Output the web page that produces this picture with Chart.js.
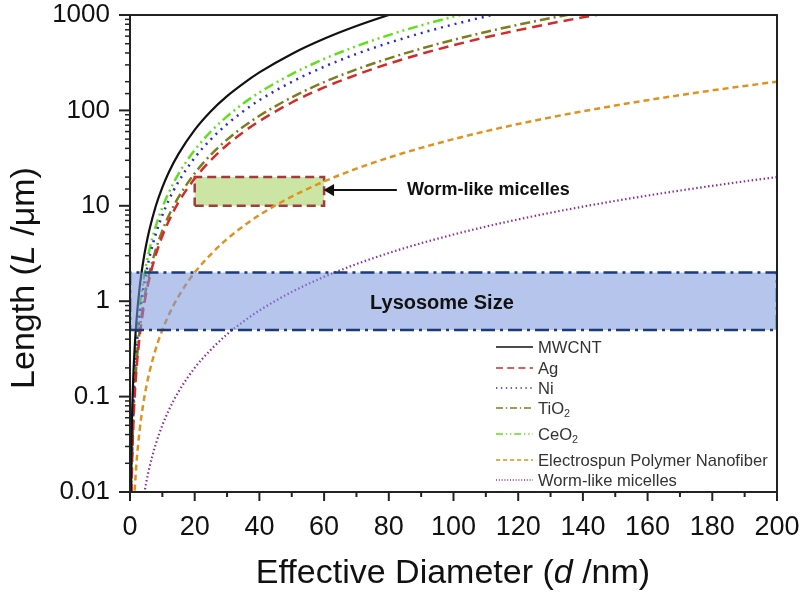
<!DOCTYPE html>
<html>
<head>
<meta charset="utf-8">
<script src="https://cdn.jsdelivr.net/npm/chart.js@4/dist/chart.umd.min.js"></script>
<style>
body{margin:0;background:#fff}
#wrap{width:800px;height:593px}
</style>
</head>
<body>
<div id="wrap"><canvas id="lenChart"></canvas></div>
<script>
// effective diameter (nm) shared by every curve
const diameters = [0.25,0.5,1,1.5,2,3,4,5,6,8,10,12,15,20,25,30,35,40,50,60,70,80,90,100,110,120,130,140,150,160,170,180,190,200]
// length (um), null where the curve is off the plot
const mwcnt = [0.0098,0.039,0.156,0.35,0.625,1.41,2.5,3.9,5.6,10,15.6,22.5,35,62.5,98,141,191,250,391,563,766,1000,1266,null,null,null,null,null,null,null,null,null,null,null]
const ag = [0.003,0.012,0.048,0.109,0.193,0.434,0.77,1.21,1.74,3.09,4.82,6.94,10.9,19.3,30.1,43.4,59.1,77.2,121,174,236,309,391,482,584,694,815,945,1085,null,null,null,null,null]
const ni = [0.005,0.02,0.08,0.179,0.319,0.717,1.28,1.99,2.87,5.1,7.97,11.5,17.9,31.9,49.8,71.7,97.7,128,199,287,391,510,646,797,965,1148,null,null,null,null,null,null,null,null]
const tio2 = [0.0034,0.0137,0.0549,0.123,0.219,0.494,0.878,1.37,1.98,3.51,5.49,7.9,12.3,21.9,34.3,49.4,67.2,87.8,137,198,269,351,444,549,664,790,927,1075,null,null,null,null,null,null]
const ceo2 = [0.006,0.024,0.096,0.216,0.384,0.865,1.54,2.4,3.46,6.15,9.61,13.8,21.6,38.4,60.1,86.5,118,154,240,346,471,615,779,961,1163,null,null,null,null,null,null,null,null,null]
const fiber = [null,null,0.005,0.011,0.02,0.045,0.08,0.125,0.18,0.32,0.5,0.72,1.125,2,3.1,4.5,6.1,8,12.5,18,24.5,32,40.5,50,60.5,72,84.5,98,112.5,128,144.5,162,180.5,200]
const worm = [null,null,null,null,null,null,0.008,0.0125,0.018,0.032,0.05,0.072,0.1125,0.2,0.31,0.45,0.61,0.8,1.25,1.8,2.45,3.2,4.05,5,6.05,7.2,8.45,9.8,11.25,12.8,14.45,16.2,18.05,20]

// lysosome band and worm-like micelle box (d, L corners)
const bandD = [0,200,200,0,0]
const bandL = [0.5,0.5,2,2,0.5]
const boxD = [20,60,60,20,20]
const boxL = [10,10,20,20,10]
const arrowD = [62,82.5]
const arrowL = [14.6,14.6]

const yTickLabels = ['0.01','0.1','1','10','100','1000']
const seriesNames = ['MWCNT','Ag','Ni','TiO|2','CeO|2','Electrospun Polymer Nanofiber','Worm-like micelles']
const seriesColors = ['#111111','#d42a2a','#2a2ad8','#7d7d1e','#5fe01c','#e0921e','#8e2f9e']
const seriesDash = [[],[10,6],[2,5],[10,4,2,4],[10,4,2,4,2,4],[6,4],[1.5,2.5]]
const seriesWidth = [2.2,2.5,2.5,2.5,2.5,2.5,2.2]
const seriesData = [mwcnt,ag,ni,tio2,ceo2,fiber,worm]

const pts = (xs,ys) => xs.map((v,i)=>({x:v,y:ys[i]}))
const isDecade = v => Math.abs(Math.log10(v)-Math.round(Math.log10(v)))<1e-6
const F = 'Liberation Sans, Arial, sans-serif'

const datasets = []
datasets.push({label:'band',data:pts(bandD,bandL),borderColor:'#1c3a7a',borderWidth:2.5,borderDash:[14,5,3,5],
  backgroundColor:'rgba(120,150,220,0.55)',fill:'shape',pointRadius:0,tension:0})
datasets.push({label:'arrow',data:pts(arrowD,arrowL),borderColor:'#111',borderWidth:2,pointRadius:[7,0],
  pointStyle:'triangle',rotation:-90,pointBackgroundColor:'#111',pointBorderWidth:0,tension:0})
seriesData.forEach((s,i)=>{
  datasets.push({label:seriesNames[i],data:pts(diameters,s),borderColor:seriesColors[i],borderWidth:seriesWidth[i],
    borderDash:seriesDash[i],pointRadius:0,fill:false,cubicInterpolationMode:'monotone'})
})
datasets.push({label:'box',data:pts(boxD,boxL),borderColor:'#a43a3a',borderWidth:2.5,borderDash:[9,5],
  backgroundColor:'#cbe6a4',fill:'shape',pointRadius:0,tension:0})

function line(ctx,x1,y1,x2,y2){ctx.beginPath();ctx.moveTo(x1,y1);ctx.lineTo(x2,y2);ctx.stroke()}

// draws text pieces one after the other, [text, italic, sub]
function pieces(ctx,x,y,parts,size,weight){
  parts.forEach(p=>{
    const sz = p[2]?size*0.65:size
    ctx.font = (p[1]?'italic ':'')+(weight||'')+' '+sz+'px '+F
    ctx.fillText(p[0],x,y+(p[2]?size*0.3:0))
    x += ctx.measureText(p[0]).width
  })
}

const extras = {
  id:'extras',
  afterDatasetsDraw(chart){
    const {ctx,scales:{x,y}} = chart
    ctx.save()
    ctx.fillStyle='#111'
    ctx.textBaseline='alphabetic'
    ctx.font='bold 20px '+F
    ctx.fillText('Lysosome Size',x.getPixelForValue(74.2),y.getPixelForValue(1)+8)
    ctx.font='bold 18px '+F
    ctx.fillText('Worm-like micelles',x.getPixelForValue(85.6),y.getPixelForValue(13))
    ctx.restore()
  },
  afterDraw(chart){
    const {ctx,chartArea:a,scales:{x,y}} = chart
    ctx.save()
    ctx.strokeStyle='#222';ctx.lineWidth=2
    ctx.strokeRect(a.left,a.top,a.right-a.left,a.bottom-a.top)
    x.ticks.forEach(t=>{
      const px = x.getPixelForValue(t.value)
      line(ctx,px,a.bottom,px,a.bottom+(t.value%20===0?9:5))
    })
    y.ticks.forEach(t=>{
      const py = y.getPixelForValue(t.value)
      if(isDecade(t.value)) line(ctx,a.left-11,py,a.left,py)
      else {ctx.lineWidth=1.5;line(ctx,a.left-5,py,a.left+1,py);ctx.lineWidth=2}
    })
    // legend
    let ly = [347,368,388,408,434,460,480]
    ctx.textBaseline='middle'
    seriesNames.forEach((n,i)=>{
      ctx.strokeStyle=seriesColors[i];ctx.lineWidth=1.6;ctx.setLineDash(seriesDash[i].map(v=>v*0.7))
      line(ctx,496,ly[i],533,ly[i])
      ctx.setLineDash([])
      ctx.fillStyle='#333'
      const sp = n.split('|')
      pieces(ctx,538,ly[i]+1,sp.length>1?[[sp[0]],[sp[1],false,true]]:[[n]],16.6)
    })
    // axis titles
    ctx.fillStyle='#111'
    ctx.textBaseline='alphabetic'
    const xt = [['Effective Diameter ('],['d',true],[' /nm)']]
    let w = 0
    xt.forEach(p=>{ctx.font=(p[1]?'italic ':'')+'34px '+F;w+=ctx.measureText(p[0]).width})
    pieces(ctx,453-w/2,583,xt,34)
    const yt = [['Length ('],['L',true],[' /\u03bcm)']]
    w = 0
    yt.forEach(p=>{ctx.font=(p[1]?'italic ':'')+'34px '+F;w+=ctx.measureText(p[0]).width})
    ctx.translate(34,278)
    ctx.rotate(-Math.PI/2)
    pieces(ctx,-w/2,0,yt,34)
    ctx.restore()
  }
}

new Chart('lenChart',{
  type:'line',
  data:{datasets:datasets},
  options:{
    responsive:true,maintainAspectRatio:false,animation:false,
    layout:{padding:{top:15,right:23,left:0,bottom:0}},
    plugins:{legend:{display:false},tooltip:{enabled:false}},
    scales:{
      x:{type:'linear',min:0,max:200,
        grid:{display:false},border:{display:true,color:'#222',width:2},
        ticks:{stepSize:10,autoSkip:false,maxRotation:0,padding:11,color:'#111',font:{family:F,size:27},
          callback:v=>v%20===0?String(v):''},
        afterFit:s=>{s.height=101;s.paddingLeft=0;s.paddingRight=0}},
      y:{type:'logarithmic',min:0.01,max:1000,
        grid:{display:false},border:{display:true,color:'#222',width:2},
        ticks:{autoSkip:false,padding:12,color:'#111',font:{family:F,size:26},
          callback:v=>isDecade(v)?yTickLabels[Math.round(Math.log10(v))+2]:''},
        afterFit:s=>{s.width=130;s.paddingTop=0;s.paddingBottom=0}}
    }
  },
  plugins:[extras]
})
</script>
</body>
</html>
